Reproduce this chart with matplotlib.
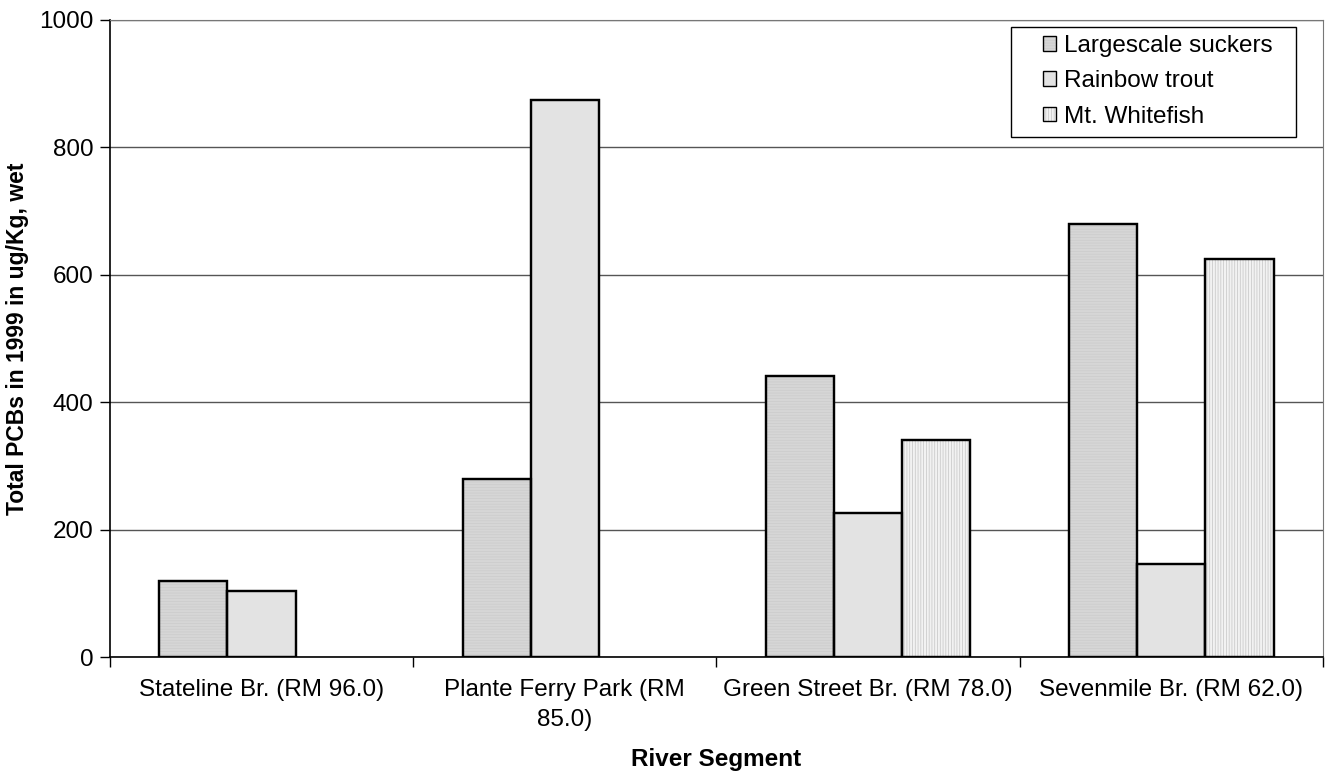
import numpy as np
import matplotlib.pyplot as plt
from matplotlib.patches import Rectangle

plt.rcParams['font.family'] = ['Liberation Sans', 'DejaVu Sans']

segments = ['Stateline Br. (RM 96.0)', 'Plante Ferry Park (RM\n85.0)',
            'Green Street Br. (RM 78.0)', 'Sevenmile Br. (RM 62.0)']
species = ['Largescale suckers', 'Rainbow trout', 'Mt. Whitefish']
suckers = [120, 280, 441, 680]
trout = [103, 874, 226, 146]
whitefish = [np.nan, np.nan, 341, 625]
yticks = [0, 200, 400, 600, 800, 1000]

fig = plt.figure(figsize=(13.33, 7.78), dpi=100)
ax = fig.add_axes([0.0825, 0.1555, 0.91, 0.8188])

x = np.arange(len(segments))
w = 0.225
styles = [
    dict(facecolor='#d6d6d6', hatch='------', hatch_color='#cbcbcb'),
    dict(facecolor='#e3e3e3', hatch=None, hatch_color='#e3e3e3'),
    dict(facecolor='#f2f2f2', hatch='||||||', hatch_color='#c4c4c4'),
]
plt.rcParams['hatch.linewidth'] = 0.5
for i, (vals, st) in enumerate(zip([suckers, trout, whitefish], styles)):
    bars = ax.bar(x + (i - 1) * w, vals, w, facecolor=st['facecolor'],
                  edgecolor='black', linewidth=1.6, label=species[i], zorder=3)
    if st['hatch']:
        for b in bars:
            b.set_hatch(st['hatch'])
            b._hatch_color = plt.matplotlib.colors.to_rgba(st['hatch_color'])
    # outline again on top, hatch colour would otherwise win
    ax.bar(x + (i - 1) * w, vals, w, facecolor='none', edgecolor='black',
           linewidth=1.6, zorder=4)

ax.set_xlim(-0.5, 3.5)
ax.set_ylim(0, 1000)
ax.set_yticks(yticks)
ax.yaxis.grid(True, color='#555555', linewidth=1.0, zorder=0)
ax.set_axisbelow(True)

ax.set_xticks(x)
ax.set_xticklabels(segments, fontsize=17.5, linespacing=1.45)
ax.set_xticks(np.arange(-0.5, 4.0, 1.0), minor=True)
ax.tick_params(axis='x', which='major', length=0, pad=16)
ax.tick_params(axis='x', which='minor', length=7, width=1.0, direction='out')
ax.tick_params(axis='y', length=7, width=1.0, labelsize=17.5, pad=5)

ax.spines['top'].set_color('#777777')
ax.spines['right'].set_color('#777777')
ax.spines['left'].set_linewidth(1.2)
ax.spines['bottom'].set_linewidth(1.2)

ax.set_xlabel('River Segment', fontsize=17.5, fontweight='bold', labelpad=12)
ax.set_ylabel('Total PCBs in 1999 in ug/Kg, wet', fontsize=16.5,
              fontweight='bold')
ax.yaxis.set_label_coords(-0.067, 0.5)

# legend: text placed without frame, box drawn to match the original
leg = ax.legend(loc='upper right', bbox_to_anchor=(1273 / 1333, 1 - 35 / 778),
                bbox_transform=fig.transFigure, fontsize=17.5, frameon=False,
                handlelength=0.55, handleheight=0.55, handletextpad=0.33,
                borderpad=0, labelspacing=0.55, borderaxespad=0)
for h in leg.legend_handles:
    h.set_linewidth(1.0)
leg.set_zorder(6)
ax.add_patch(Rectangle((1011 / 1333, 1 - 137 / 778), 285 / 1333, 110 / 778,
                       transform=fig.transFigure, facecolor='white',
                       edgecolor='black', linewidth=1.0, zorder=5, clip_on=False))

fig.savefig('out.png', dpi=100)
